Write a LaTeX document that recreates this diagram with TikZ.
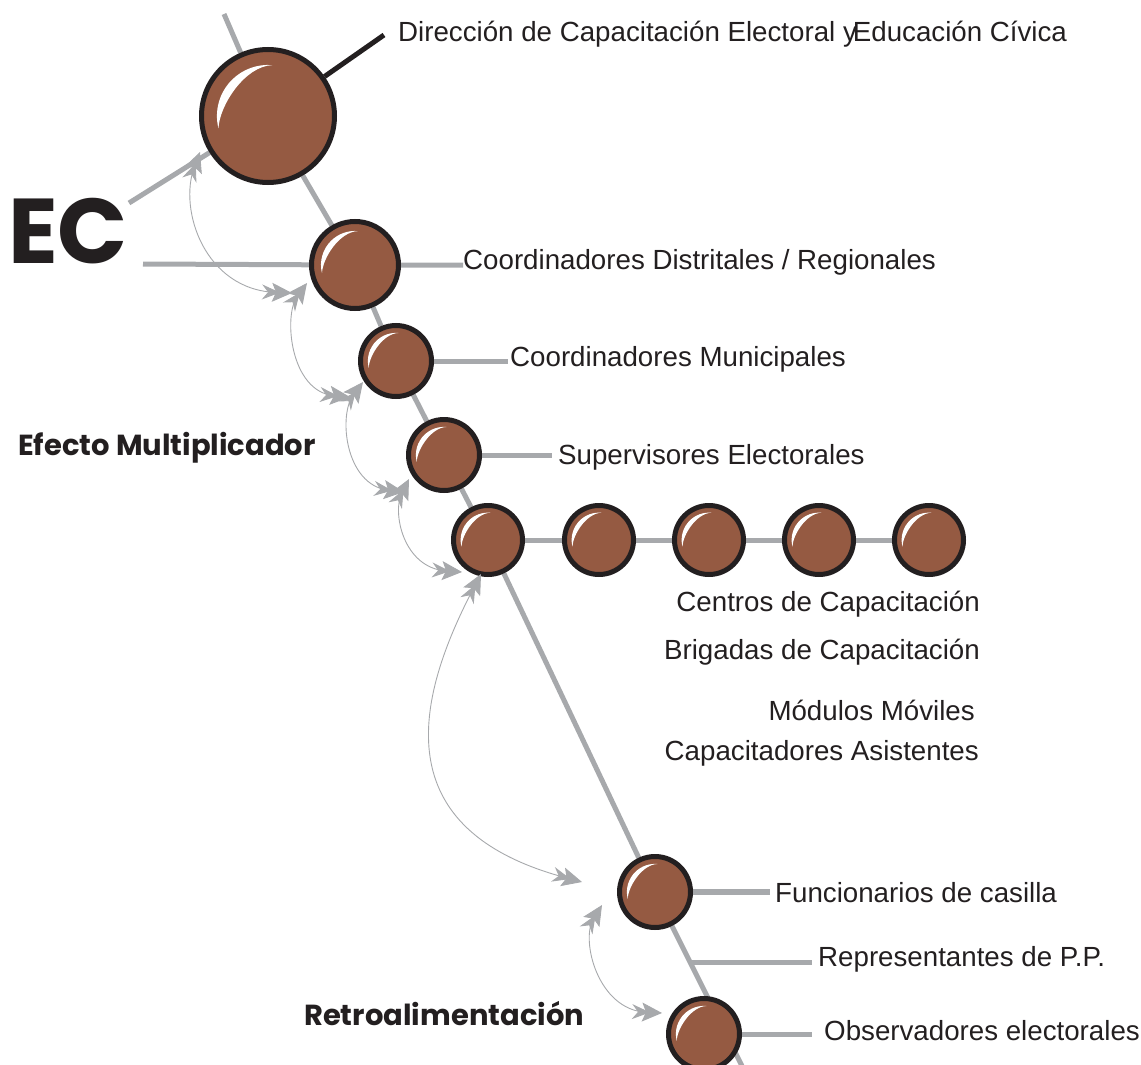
\documentclass[tikz,border=0pt]{standalone}
\usepackage{fontspec}
\setmainfont{Liberation Sans}
\newfontfamily\gothic{Poppins}
\usetikzlibrary{calc}
\usetikzlibrary{arrows.meta, backgrounds}
\definecolor{ballfill}{HTML}{955A42}
\definecolor{ballline}{HTML}{231F20}
\definecolor{spinegray}{HTML}{A7A9AC}
\tikzset{>=latex}
\tikzset{ball/.style={circle, draw=ballline, fill=ballfill, line width=5pt, inner sep=0pt}}
\tikzset{spine/.style={spinegray, line width=5pt}}
\tikzset{feed/.style={spinegray, line width=0.9pt, >={Stealth[length=18pt, width=15pt, inset=6pt, sep=-8pt] Stealth[length=20pt, width=19pt, inset=4pt]}, <->}}
\tikzset{lbl/.style={ballline, inner sep=0pt, font=\fontsize{27.7}{32}\selectfont}}
\tikzset{big/.style={ballline, inner sep=0pt, anchor=west, font=\gothic\bfseries\fontsize{29}{33}\selectfont}}
\newcommand{\ball}[4]{%
	\node[ball, minimum size={2*#4pt-5pt}] (#1) at (#2,#3) {};
	\fill[white] ($(#1)+(194:{0.74*#4pt})$) arc[start angle=194, end angle=85, radius={0.74*#4pt}]
		.. controls ($(#1)+(115:{0.80*#4pt})$) and ($(#1)+(168:{0.72*#4pt})$) .. ($(#1)+(194:{0.74*#4pt})$);
}

\begin{document}
\begin{tikzpicture}[x=1pt, y=-1pt]
	\useasboundingbox (0,0) rectangle (1141,1065);

	% Balls
	\ball{c1}{268}{116}{69}
	\ball{c2}{355}{265}{46}
	\ball{c3}{396}{361}{38}
	\ball{c4}{444}{455}{38}
	\ball{c5}{488}{540}{37}
	\ball{r1}{599}{540}{37}
	\ball{r2}{709}{540}{37}
	\ball{r3}{819}{540}{37}
	\ball{r4}{929}{540}{37}
	\ball{c6}{655}{892}{38}
	\ball{c7}{704}{1034}{38}

	% Free ends
	\coordinate (top) at (224,14);
	\coordinate (bot) at (742,1066);
	\coordinate (ecl) at (129,203);
	\coordinate (ech) at (143,264);
	\coordinate (dirl) at (384,35);
	\coordinate (brp) at ($(c6)!0.405!(bot)$);

	% Labels
	\node[lbl, anchor=west] (tdir) at (398,34) {Dirección de Capacitación Electoral y\kern-4ptEducación Cívica};
	\node[lbl, anchor=west] (tdis) at (463,262) {Coordinadores Distritales / Regionales};
	\node[lbl, anchor=west] (tmun) at (510,359) {Coordinadores Municipales};
	\node[lbl, anchor=west] (tsup) at (558,457) {Supervisores Electorales};
	\node[lbl, anchor=east] (tcen) at (980,604) {Centros de Capacitación};
	\node[lbl, anchor=east] (tbri) at (980,652) {Brigadas de Capacitación};
	\node[lbl, anchor=east] (tmod) at (975,710) {Módulos Móviles};
	\node[lbl, anchor=east] (tcap) at (979,753) {Capacitadores Asistentes};
	\node[lbl, anchor=west] (tfun) at (775,893) {Funcionarios de casilla};
	\node[lbl, anchor=west] (trep) at (818,959) {Representantes de P.P.};
	\node[lbl, anchor=west] (tobs) at (824,1031) {Observadores electorales};

	\node[big, font=\gothic\bfseries\fontsize{92}{96}\selectfont] (ec) at (8,231) {EC};
	\node[big] (efm) at (18,448) {Efecto Multiplicador};
	\node[big] (retro) at (304,1014) {Retroalimentación};

	% Lines behind the balls
	\begin{scope}[on background layer]
		\draw[spine] (top) -- (c1) (c1) -- (c2) (c2) -- (c3) (c3) -- (c4) (c4) -- (c5) (c5) -- (c6) (c6) -- (bot);
		\draw[line width=5pt, ballline] (c1) -- (dirl);
		\draw[spine] (ecl) -- (c1);
		\draw[spine] (ech) -- (c2) (c2) -- (c2 -| tdis.west);
		\draw[spine, shorten >=2pt] (c3) -- (c3 -| tmun.west);
		\draw[spine, shorten >=6pt] (c4) -- (c4 -| tsup.west);
		\draw[spine] (c5) -- (r1) (r1) -- (r2) (r2) -- (r3) (r3) -- (r4);
		\draw[spine, line width=6pt, shorten >=5pt] (c6) -- (c6 -| tfun.west);
		\draw[spine, shorten >=6pt] (brp) -- (brp -| trep.west);
		\draw[spine, shorten >=12pt] (c7) -- (c7 -| tobs.west);
	\end{scope}

	% Feedback arrows
	\coordinate (a1) at (200,152); \coordinate (b1) at (292,293);
	\coordinate (a2) at (307,283); \coordinate (b2) at (350,397);
	\coordinate (a3) at (363,382); \coordinate (b3) at (404,492);
	\coordinate (a4) at (409,479); \coordinate (b4) at (462,572);
	\coordinate (a5) at (481,574); \coordinate (b5) at (582,882);
	\coordinate (a6) at (602,905); \coordinate (b6) at (662,1013);
	\draw[feed] (a1) .. controls (178,210) and (205,290) .. (b1);
	\draw[feed] (a2) .. controls (283,315) and (290,392) .. (b2);
	\draw[feed] (a3) .. controls (338,415) and (345,485) .. (b3);
	\draw[feed] (a4) .. controls (392,512) and (403,568) .. (b4);
	\draw[feed] (a5) .. controls (415,700) and (385,830) .. (b5);
	\draw[feed] (a6) .. controls (580,940) and (598,1010) .. (b6);
\end{tikzpicture}
\end{document}
